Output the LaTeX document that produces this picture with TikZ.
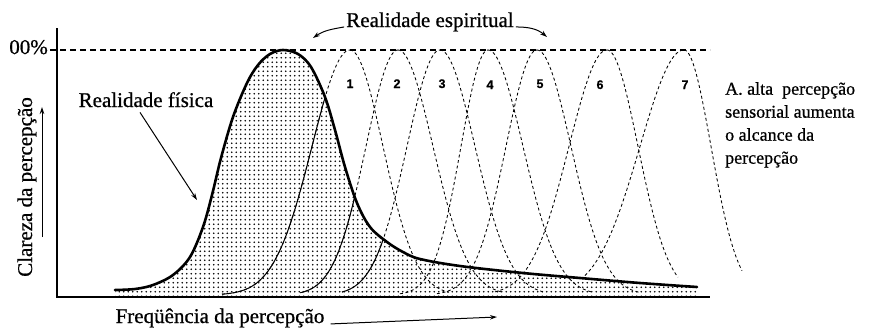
\documentclass[tikz,border=0pt]{standalone}
\usepackage{fontspec}
\setmainfont{Liberation Serif}
\newfontfamily\inkfont{Liberation Serif}[FakeBold=0.7]
\newfontfamily\numfont{Liberation Sans}[FakeBold=0.5]
\usetikzlibrary{patterns,arrows.meta}
\pgfdeclarepatternformonly{stipple}{\pgfqpoint{-1pt}{-1pt}}{\pgfqpoint{5.5pt}{5.5pt}}{\pgfqpoint{4.5pt}{4.5pt}}{\pgfpathcircle{\pgfqpoint{2.25pt}{2.25pt}}{0.8pt}\pgfusepath{fill}}
\begin{document}
\begin{tikzpicture}[x=1pt,y=-1pt,
  declare function={bell(\x,\c,\s)=295-245*exp(-0.5*((\x-\c)/\s)^2);},
  axis/.style={line width=1.6pt},
  main/.style={line width=2.6pt, line join=round, line cap=round},
  flank/.style={line width=0.85pt, dash pattern=on 3pt off 2.6pt},
  solidflank/.style={line width=1pt},
  topline/.style={line width=1.2pt, dash pattern=on 6pt off 4pt},
  lbl/.style={font=\inkfont\fontsize{21}{24}\selectfont, inner sep=0pt},
  desc/.style={font=\inkfont\fontsize{18}{23}\selectfont, inner sep=0pt, align=left},
  num/.style={font=\numfont\bfseries\fontsize{12.5}{13}\selectfont, inner sep=0pt},
  arr/.style={line width=1pt, -{Stealth[length=7pt,width=4.5pt]}},
  mainc/.style={insert path={plot[smooth,tension=0.55] coordinates {(115,290) (135,289) (153,285) (173,275) (190,257) (203,227) (212,195) (221,158) (233,117) (247,83) (258,65) (270,54) (283,50) (298,54) (311,67) (325,97) (335,130) (345,167) (357,203) (370,227) (387,242) (403,252) (420,259) (460,266) (523,273) (580,278) (640,283) (697,287)}}}
]
\useasboundingbox (0,0) rectangle (879,330);

\coordinate (ytop) at (57,28);
\coordinate (O) at (57,297);
\coordinate (xend) at (710,297);
\coordinate (h0) at (50,50);
\coordinate (h1) at (710,50);

% stippled area under the physical-reality curve
\path[pattern=stipple, mainc] -- (697,296) -- (115,296) -- cycle;

% dashed bells (spiritual reality bands)
\draw[flank] plot[domain=222:350, samples=60] (\x,{bell(\x,350,38)});
\draw[flank] plot[domain=350:449, samples=60] (\x,{bell(\x,350,33)});
\draw[flank] plot[domain=300:398, samples=60] (\x,{bell(\x,398,32)});
\draw[flank] plot[domain=398:503, samples=60] (\x,{bell(\x,398,35)});
\draw[flank] plot[domain=342:440, samples=60] (\x,{bell(\x,440,33)});
\draw[flank] plot[domain=440:545, samples=60] (\x,{bell(\x,440,35)});
\draw[flank] plot[domain=400:488, samples=60] (\x,{bell(\x,488,27)});
\draw[flank] plot[domain=488:593, samples=60] (\x,{bell(\x,488,35)});
\draw[flank] plot[domain=437:537, samples=60] (\x,{bell(\x,537,31)});
\draw[flank] plot[domain=537:639, samples=60] (\x,{bell(\x,537,34)});
\draw[flank] plot[domain=495:607, samples=60] (\x,{bell(\x,607,38)});
\draw[flank] plot[domain=607:678, samples=60] (\x,{bell(\x,607,31)});
\draw[flank] plot[domain=585:684, samples=60] (\x,{bell(\x,684,44)});
\draw[flank] plot[domain=684:742, samples=60] (\x,{bell(\x,684,27)});

% solid parts of the left flanks inside the stippled area
\begin{scope}
\path[clip, mainc] -- (697,297) -- (115,297) -- cycle;
\draw[solidflank] plot[domain=222:350, samples=60] (\x,{bell(\x,350,38)});
\draw[solidflank] plot[domain=302:398, samples=60] (\x,{bell(\x,398,32)});
\draw[solidflank] plot[domain=342:440, samples=60] (\x,{bell(\x,440,33)});
\end{scope}

% physical reality curve
\draw[main, mainc];

% axes and 100% line
\draw[topline] (h0) -- (h1);
\draw[axis] (ytop) -- (O) -- (xend);

% numbers
\node[num, anchor=base] (n1) at (350,88) {1};
\node[num, anchor=base] (n2) at (397,88) {2};
\node[num, anchor=base] (n3) at (442,88) {3};
\node[num, anchor=base] (n4) at (490,89) {4};
\node[num, anchor=base] (n5) at (540,88) {5};
\node[num, anchor=base] (n6) at (600,89) {6};
\node[num, anchor=base] (n7) at (685,89) {7};

% labels
\node[lbl, anchor=base east] (pct) at (48,54) {00\%};
\node[lbl, anchor=base] (esp) at (430,27) {Realidade espiritual};
\node[lbl, anchor=base] (fis) at (146,107) {Realidade física};
\node[lbl, anchor=base] (freq) at (220,323) {Freqüência da percepção};
\node[lbl, anchor=base, rotate=90] (clar) at (32,187) {Clareza da percepção};
\node[desc, anchor=north west] (txt) at (725,82) {A. alta\ \ percepção\\sensorial aumenta\\o alcance da\\percepção};

% arrows
\coordinate (espL) at (313,38);
\coordinate (espR) at (547,37);
\coordinate (fisT) at (197,200);
\coordinate (freqT) at (497,317);
\coordinate (yA) at (42,237);
\coordinate (yB) at (42,107);
\draw[arr] ([xshift=-2pt,yshift=-5pt]esp.west) to[out=190,in=35] (espL);
\draw[arr] ([xshift=2pt,yshift=-5pt]esp.east) to[out=0,in=140] (espR);
\draw[arr] ([xshift=-6pt,yshift=-5pt]fis.south) -- (fisT);
\draw[arr] ([xshift=6pt,yshift=-6pt]freq.east) -- (freqT);
\draw[arr] (yA) -- (yB);
\end{tikzpicture}
\end{document}
